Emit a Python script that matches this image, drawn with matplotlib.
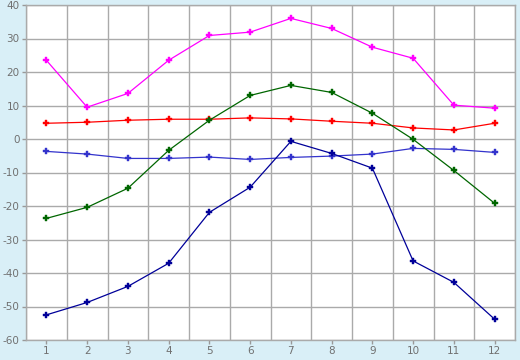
import matplotlib
matplotlib.use("Agg")
import matplotlib.pyplot as plt

plt.rcParams["axes.unicode_minus"] = False

months = list(range(1, 13))

# series
magenta_vals = [23.5, 9.5, 13.6, 23.5, 30.9, 31.9, 36.0, 33.0, 27.4, 24.1, 10.1, 9.2]
red_vals = [4.7, 5.0, 5.6, 5.9, 5.9, 6.3, 6.0, 5.3, 4.7, 3.3, 2.7, 4.7]
blue_vals = [-3.7, -4.5, -5.8, -5.8, -5.4, -6.1, -5.5, -5.1, -4.5, -2.8, -3.1, -4.0]
green_vals = [-23.7, -20.4, -14.7, -3.4, 5.6, 13.0, 16.0, 13.9, 7.7, -0.1, -9.4, -19.2]
navy_vals = [-52.5, -48.8, -44.0, -37.1, -21.9, -14.4, -0.7, -4.3, -8.7, -36.4, -42.8, -53.8]

series = [
    (magenta_vals, "#ff00ff"),
    (red_vals, "#ff0000"),
    (blue_vals, "#3333cc"),
    (green_vals, "#006600"),
    (navy_vals, "#000099"),
]

bg = "#d9eff7"
fig = plt.figure(figsize=(5.2, 3.6), dpi=100, facecolor=bg)
ax = fig.add_axes([26/520, 20/360, 489/520, 335/360])
ax.set_facecolor("white")

for vals, col in series:
    ax.plot(months, vals, color=col, lw=0.9, marker="P", ms=5,
            markeredgewidth=0.3, markeredgecolor=col, zorder=3)

ax.set_xlim(0.5, 12.5)
ax.set_ylim(-60, 40)
ax.set_xticks(months)
ax.set_xticks([m + 0.5 for m in range(0, 13)], minor=True)
ax.set_yticks(range(-60, 41, 10))
ax.grid(False)
ax.grid(True, which="minor", axis="x", color="#aaaaaa", lw=1.0)
ax.grid(True, which="major", axis="y", color="#aaaaaa", lw=1.0)
ax.tick_params(which="minor", length=0)
ax.tick_params(which="major", length=3, color="#999999", labelcolor="#707070",
               labelsize=7.5, pad=1.5, width=1)

for s in ax.spines.values():
    s.set_color("#aaaaaa")
    s.set_linewidth(1.0)

fig.savefig("out.png", dpi=100, facecolor=bg)
